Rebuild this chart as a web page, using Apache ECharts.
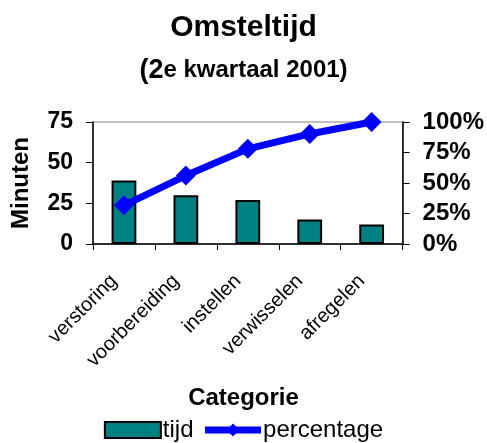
<!DOCTYPE html>
<html><head><meta charset="utf-8">
<script src="https://cdn.jsdelivr.net/npm/echarts@6/dist/echarts.min.js"></script>
<style>html,body{margin:0;padding:0;background:#fff}#c{width:487px;height:443px}</style>
</head><body><div id="c"></div>
<script>
const categories = ['verstoring', 'voorbereiding', 'instellen', 'verwisselen', 'afregelen'];
const tijd = [39, 30, 27, 15, 12];
const percentage = [31.7, 56.1, 78.0, 90.2, 100];
const leftTicks = [0, 25, 50, 75];
const rightTicks = [0, 25, 50, 75, 100];

const F = '"Liberation Sans", Arial, sans-serif';
const chart = echarts.init(document.getElementById('c'));
chart.setOption({
  animation: false,
  textStyle: { fontFamily: F },
  title: [
    { text: 'Omsteltijd', left: 'center', top: 8, textStyle: { fontFamily: F, fontSize: 30, fontWeight: 'bold', color: '#000' } },
    { text: '{a|(2}{b|e kwartaal 2001)}', left: 'center', top: 52,
      textStyle: { rich: { a: { fontFamily: F, fontSize: 27, fontWeight: 'bold', color: '#000' }, b: { fontFamily: F, fontSize: 24, fontWeight: 'bold', color: '#000' } } } },
    { text: 'Categorie', left: 'center', top: 381, textStyle: { fontFamily: F, fontSize: 24, fontWeight: 'bold', color: '#000' } }
  ],
  legend: {
    top: 413, left: 'center', itemGap: 8, itemWidth: 56, itemHeight: 16,
    textStyle: { fontFamily: F, fontSize: 24, color: '#000', padding: [0, 0, 0, -3] },
    data: [
      { name: 'tijd', icon: 'rect', itemStyle: { color: '#008080', borderColor: '#000', borderWidth: 2 } },
      { name: 'percentage', lineStyle: { color: '#0000ff', width: 7 } }
    ]
  },
  grid: { left: 93, right: 84, top: 122, bottom: 199, show: true, borderColor: '#808080', borderWidth: 1 },
  xAxis: {
    type: 'category', data: categories, boundaryGap: true,
    axisLine: { lineStyle: { color: '#000', width: 1.5 } },
    axisTick: { show: true, alignWithLabel: false, length: 6, lineStyle: { color: '#000' } },
    axisLabel: { rotate: 45, fontFamily: F, fontSize: 20, color: '#000', margin: 24, padding: [0, 14, 0, 0], interval: 0 }
  },
  yAxis: [
    { type: 'value', min: 0, max: 75, interval: 25, name: 'Minuten', nameLocation: 'middle', nameGap: 60, nameRotate: 90,
      nameTextStyle: { fontFamily: F, fontSize: 24, fontWeight: 'bold', color: '#000' },
      axisLine: { show: true, lineStyle: { color: '#000', width: 1.5 } },
      axisTick: { show: true, length: 7, lineStyle: { color: '#000' } },
      splitLine: { show: false },
      axisLabel: { fontFamily: F, fontSize: 23, fontWeight: 'bold', color: '#000', margin: 20,
        formatter: v => leftTicks.includes(v) ? String(v) : '' } },
    { type: 'value', min: 0, max: 100, interval: 25, position: 'right',
      axisLine: { show: true, lineStyle: { color: '#000', width: 1.5 } },
      axisTick: { show: true, length: 7, lineStyle: { color: '#000' } },
      splitLine: { show: false },
      axisLabel: { fontFamily: F, fontSize: 24, fontWeight: 'bold', color: '#000', margin: 20,
        formatter: v => rightTicks.includes(v) ? v + '%' : '' } }
  ],
  series: [
    { name: 'tijd', type: 'bar', data: tijd, yAxisIndex: 0, barWidth: '40%',
      itemStyle: { color: '#008080', borderColor: '#000', borderWidth: 2 } },
    { name: 'percentage', type: 'line', data: percentage, yAxisIndex: 1,
      symbol: 'diamond', symbolSize: 20, showAllSymbol: true,
      lineStyle: { color: '#0000ff', width: 7 }, itemStyle: { color: '#0000ff' } }
  ]
});
</script></body></html>
